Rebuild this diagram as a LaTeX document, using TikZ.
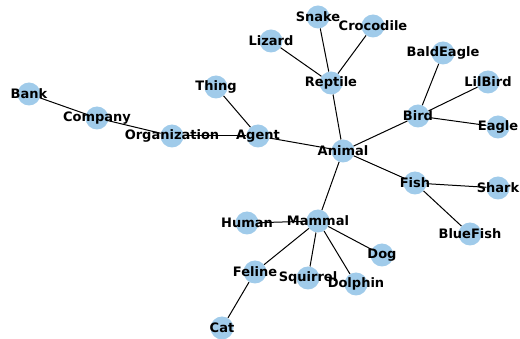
\documentclass[tikz,border=0pt]{standalone}
\usepackage{fontspec}
\setmainfont{DejaVu Sans}
\usepackage{xcolor}
\usepackage{tikz}
\usetikzlibrary{positioning}
\definecolor{nodeblue}{RGB}{160,203,234}

\begin{document}
\begin{tikzpicture}[
  x=1pt, y=-1pt,
  dot/.style={circle, fill=nodeblue, minimum size=23pt, inner sep=0pt,
    label={[font=\fontsize{13}{15}\selectfont\bfseries, inner sep=0pt]center:#1}},
  edge/.style={draw=black, line width=1pt}
]
  \useasboundingbox (0,0) rectangle (520,339);

  % Organisation branch
  \node[dot=Bank] (bank) at (29,94) {};
  \node[dot=Company] (company) at (97,118) {};
  \node[dot=Organization] (org) at (172,136) {};
  \node[dot=Agent] (agent) at (258,136) {};
  \node[dot=Thing] (thing) at (216,87) {};
  \node[dot=Animal] (animal) at (343,151) {};

  % Reptiles
  \node[dot=Reptile] (reptile) at (331,83) {};
  \node[dot=Lizard] (lizard) at (271,41) {};
  \node[dot=Snake] (snake) at (318,17) {};
  \node[dot=Crocodile] (croc) at (373,26) {};

  % Birds
  \node[dot=Bird] (bird) at (418,116) {};
  \node[dot=BaldEagle] (baldeagle) at (443,53) {};
  \node[dot=LilBird] (lilbird) at (488,82) {};
  \node[dot=Eagle] (eagle) at (498,127) {};

  % Fish
  \node[dot=Fish] (fish) at (415,183) {};
  \node[dot=Shark] (shark) at (498,188) {};
  \node[dot=BlueFish] (bluefish) at (470,234) {};

  % Mammals
  \node[dot=Mammal] (mammal) at (318,221) {};
  \node[dot=Human] (human) at (247,223) {};
  \node[dot=Dog] (dog) at (382,255) {};
  \node[dot=Dolphin] (dolphin) at (356,284) {};
  \node[dot=Squirrel] (squirrel) at (308,278) {};
  \node[dot=Feline] (feline) at (255,272) {};
  \node[dot=Cat] (cat) at (222,328) {};

  \draw[edge] (bank) -- (company);
  \draw[edge] (company) -- (org);
  \draw[edge] (org) -- (agent);
  \draw[edge] (thing) -- (agent);
  \draw[edge] (agent) -- (animal);
  \draw[edge] (animal) -- (reptile);
  \draw[edge] (reptile) -- (lizard);
  \draw[edge] (reptile) -- (snake);
  \draw[edge] (reptile) -- (croc);
  \draw[edge] (animal) -- (bird);
  \draw[edge] (bird) -- (baldeagle);
  \draw[edge] (bird) -- (lilbird);
  \draw[edge] (bird) -- (eagle);
  \draw[edge] (animal) -- (fish);
  \draw[edge] (fish) -- (shark);
  \draw[edge] (fish) -- (bluefish);
  \draw[edge] (animal) -- (mammal);
  \draw[edge] (mammal) -- (human);
  \draw[edge] (mammal) -- (dog);
  \draw[edge] (mammal) -- (dolphin);
  \draw[edge] (mammal) -- (squirrel);
  \draw[edge] (mammal) -- (feline);
  \draw[edge] (feline) -- (cat);
\end{tikzpicture}
\end{document}
